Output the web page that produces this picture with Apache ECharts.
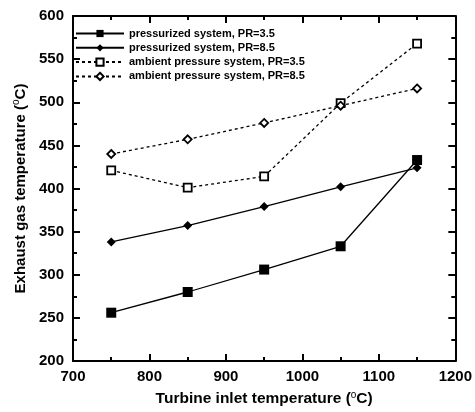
<!DOCTYPE html>
<html>
<head>
<meta charset="utf-8">
<script src="https://cdn.jsdelivr.net/npm/echarts@6/dist/echarts.min.js"></script>
<style>html,body{margin:0;padding:0;background:#fff;}#c{width:475px;height:412px;}</style>
</head>
<body>
<div id="c"></div>
<script>
var tit = [750, 850, 950, 1050, 1150];
var seriesNames = ['pressurized system, PR=3.5', 'pressurized system, PR=8.5', 'ambient pressure system, PR=3.5', 'ambient pressure system, PR=8.5'];
var pressPR35 = [256, 280, 306, 333, 433];
var pressPR85 = [338, 357, 379, 402, 424];
var ambPR35 = [421, 401, 414, 499, 568];
var ambPR85 = [440, 457, 476, 496, 516];

function pairs(v){ return tit.map(function(x,i){ return [x, v[i]]; }); }
var F = 'Arial, "Liberation Sans", sans-serif';
var chart = echarts.init(document.getElementById('c'));
function axisCommon(){
  return {
    axisLine:{show:true, onZero:false, lineStyle:{color:'#000', width:2}},
    axisTick:{show:true, inside:true, length:7, lineStyle:{color:'#000', width:2}},
    minorTick:{show:true, splitNumber:2, length:4, lineStyle:{color:'#000', width:2}},
    splitLine:{show:false}, minorSplitLine:{show:false}
  };
}
function fmt(v){ return String(v); }
function richName(fs){ return {a:{color:'#000', fontFamily:F, fontWeight:'bold', fontSize:fs}, s:{color:'#000', fontFamily:F, fontSize:10, verticalAlign:'top', padding:[0,0,8,0]}}; }
var xb = Object.assign(axisCommon(), {type:'value', min:700, max:1200, interval:100, position:'bottom',
  axisLabel:{color:'#000', fontFamily:F, fontWeight:'bold', fontSize:15, margin:8, formatter:fmt},
  name:'{a|Turbine inlet temperature (}{s|o}{a|C)}', nameLocation:'middle', nameGap:29,
  nameTextStyle:{rich:richName(15.5)}});
var xt = Object.assign(axisCommon(), {type:'value', min:700, max:1200, interval:100, position:'top', axisLabel:{show:false}});
var yl = Object.assign(axisCommon(), {type:'value', min:200, max:600, interval:50, position:'left',
  axisLabel:{color:'#000', fontFamily:F, fontWeight:'bold', fontSize:15, margin:9, formatter:fmt},
  name:'{a|Exhaust gas temperature (}{s|o}{a|C)}', nameLocation:'middle', nameGap:42,
  nameTextStyle:{rich:richName(15)}});
var yr = Object.assign(axisCommon(), {type:'value', min:200, max:600, interval:50, position:'right', axisLabel:{show:false}});

function mk(name, data, symbol, size, filled, dashed){
  return {
    name:name, type:'line', xAxisIndex:0, yAxisIndex:0, data:pairs(data),
    symbol:symbol, symbolSize:size, showSymbol:true, animation:false,
    lineStyle:{color:'#000', width:1.3, type: dashed ? [3,3] : 'solid'},
    itemStyle:{color: filled ? '#000' : '#fff', borderColor:'#000', borderWidth: filled ? 0 : 1.8, opacity:1}
  };
}
chart.setOption({
  animation:false,
  backgroundColor:'#fff',
  grid:{left:73, right:17, top:16, bottom:50, containLabel:false},
  xAxis:[xb, xt],
  yAxis:[yl, yr],
  legend:{orient:'vertical', left:70, top:23, itemWidth:48, itemHeight:9, itemGap:3.3,
    textStyle:{color:'#000', fontFamily:F, fontWeight:'bold', fontSize:11},
    data:seriesNames},
  series:[
    mk(seriesNames[0], pressPR35, 'rect', 10, true, false),
    mk(seriesNames[1], pressPR85, 'diamond', 9, true, false),
    mk(seriesNames[2], ambPR35, 'rect', 8, false, true),
    mk(seriesNames[3], ambPR85, 'diamond', 8, false, true)
  ]
});
</script>
</body>
</html>
